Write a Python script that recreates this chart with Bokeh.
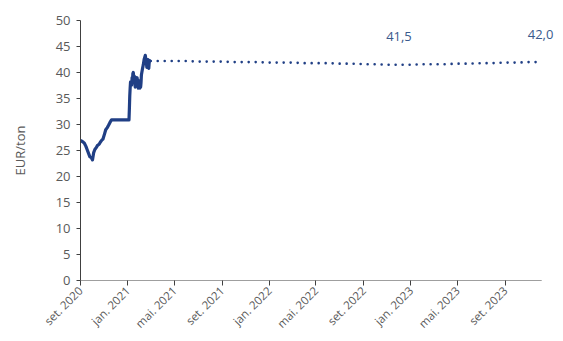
import math
from datetime import datetime

from bokeh.core.properties import value
from bokeh.embed import file_html
from bokeh.models import ColumnDataSource, FixedTicker, LabelSet, Range1d
from bokeh.plotting import figure
from bokeh.resources import INLINE

# Observed prices (EUR/ton)
spot_dates = [
    "2020-09-01", "2020-09-04", "2020-09-08", "2020-09-11", "2020-09-15", "2020-09-18",
    "2020-09-22", "2020-09-25", "2020-09-29", "2020-10-02", "2020-10-05", "2020-10-08",
    "2020-10-12", "2020-10-15", "2020-10-19", "2020-10-22", "2020-10-26", "2020-10-29",
    "2020-11-02", "2020-11-05", "2020-11-09", "2020-11-12", "2020-11-16", "2020-11-20",
    "2021-01-04", "2021-01-05", "2021-01-06", "2021-01-07", "2021-01-08", "2021-01-11",
    "2021-01-12", "2021-01-13", "2021-01-14", "2021-01-15", "2021-01-18", "2021-01-19",
    "2021-01-20", "2021-01-21", "2021-01-22", "2021-01-25", "2021-01-26", "2021-01-27",
    "2021-01-28", "2021-01-29", "2021-02-01", "2021-02-02", "2021-02-03", "2021-02-04",
    "2021-02-05", "2021-02-08", "2021-02-10", "2021-02-12", "2021-02-15", "2021-02-16",
    "2021-02-17", "2021-02-18", "2021-02-19", "2021-02-22", "2021-02-23", "2021-02-24",
    "2021-02-25", "2021-02-26", "2021-03-01",
]
spot_values = [
    27.0, 26.8, 26.6, 26.4, 25.8, 25.2,
    24.4, 23.8, 23.6, 23.2, 24.6, 25.2,
    25.6, 26.0, 26.2, 26.6, 27.0, 27.2,
    28.2, 29.0, 29.4, 29.8, 30.4, 30.9,
    30.9, 33.0, 35.5, 37.0, 38.2, 37.6,
    39.0, 38.4, 39.8, 40.0, 38.0, 39.2,
    37.2, 38.8, 38.0, 39.0, 37.4, 38.6,
    37.0, 38.4, 37.0, 38.2, 37.2, 38.0,
    39.5, 40.8, 41.5, 42.5, 43.3, 42.8,
    42.6, 41.8, 41.0, 42.5, 41.6, 40.8,
    41.8, 42.3, 42.0,
]

# Forward curve, monthly (EUR/ton)
fwd_months = [
    "2021-03-01", "2021-04-01", "2021-05-01", "2021-06-01", "2021-07-01", "2021-08-01",
    "2021-09-01", "2021-10-01", "2021-11-01", "2021-12-01", "2022-01-01", "2022-02-01",
    "2022-03-01", "2022-04-01", "2022-05-01", "2022-06-01", "2022-07-01", "2022-08-01",
    "2022-09-01", "2022-10-01", "2022-11-01", "2022-12-01", "2023-01-01", "2023-02-01",
    "2023-03-01", "2023-04-01", "2023-05-01", "2023-06-01", "2023-07-01", "2023-08-01",
    "2023-09-01", "2023-10-01", "2023-11-01", "2023-12-01",
]
fwd_values = [
    42.2, 42.2, 42.2, 42.2, 42.1, 42.1,
    42.1, 42.0, 42.0, 42.0, 41.9, 41.9,
    41.9, 41.8, 41.8, 41.8, 41.7, 41.7,
    41.6, 41.6, 41.5, 41.5, 41.5, 41.6,
    41.6, 41.6, 41.7, 41.7, 41.8, 41.8,
    41.9, 41.9, 42.0, 42.0,
]

# Labelled forward points
label_months = ["2022-12-01", "2023-12-01"]
label_values = [41.5, 42.0]
label_texts = ["41,5", "42,0"]

# Axis ticks and extent
tick_dates = [
    "2020-09-01", "2021-01-01", "2021-05-01", "2021-09-01", "2022-01-01",
    "2022-05-01", "2022-09-01", "2023-01-01", "2023-05-01", "2023-09-01",
]
tick_labels = [
    "set. 2020", "jan. 2021", "mai. 2021", "set. 2021", "jan. 2022",
    "mai. 2022", "set. 2022", "jan. 2023", "mai. 2023", "set. 2023",
]
axis_start = "2020-09-01"
axis_end = "2023-12-04"
view_end = "2024-01-24"   # extra room on the right so end labels are not clipped
y_ticks = [0, 5, 10, 15, 20, 25, 30, 35, 40, 45, 50]


def to_dt(s):
    return datetime.strptime(s, "%Y-%m-%d")


def to_ms(s):
    return (to_dt(s) - datetime(1970, 1, 1)).total_seconds() * 1000.0


LINE = "#203F85"
LABEL = "#3A5A8C"
GREY = "#595959"
AXIS = "#404040"
FONT = "Open Sans"

p = figure(
    width=563, height=341,
    x_axis_type="datetime",
    output_backend="svg",
    toolbar_location=None,
    min_border_left=80, min_border_right=2,
    min_border_top=20, min_border_bottom=61,
    x_range=Range1d(to_dt(axis_start), to_dt(view_end)),
    y_range=Range1d(0, 50),
)
p.outline_line_color = None
p.xgrid.visible = False
p.ygrid.visible = False
p.background_fill_color = "white"
p.border_fill_color = "white"

spot = ColumnDataSource(dict(x=[to_dt(d) for d in spot_dates], y=spot_values))
fwd = ColumnDataSource(dict(x=[to_dt(d) for d in fwd_months], y=fwd_values))
lab = ColumnDataSource(dict(x=[to_dt(d) for d in label_months], y=label_values, t=label_texts))

# baseline of the time axis, ending at the last month shown
p.segment(x0=[to_dt(axis_start)], y0=[0], x1=[to_dt(axis_end)], y1=[0],
          line_color=AXIS, line_width=1)

p.line("x", "y", source=fwd, line_color=LINE, line_width=2.6,
       line_dash="0 7", line_cap="round")
p.line("x", "y", source=spot, line_color=LINE, line_width=3.2, line_join="round")

p.add_layout(LabelSet(
    x="x", y="y", text="t", source=lab, text_color=LABEL,
    text_font=value(FONT), text_font_size="13px",
    text_align="center", text_baseline="middle", y_offset=28,
))

# y axis
ya = p.yaxis[0]
ya.ticker = FixedTicker(ticks=y_ticks)
ya.axis_label = "EUR/ton"
ya.axis_label_text_font = FONT
ya.axis_label_text_font_style = "normal"
ya.axis_label_text_font_size = "13px"
ya.axis_label_text_color = GREY
ya.axis_label_standoff = 24
ya.major_label_text_font = FONT
ya.major_label_text_font_size = "13px"
ya.major_label_text_color = GREY
ya.major_label_standoff = 6
ya.axis_line_color = AXIS
ya.major_tick_line_color = AXIS
ya.major_tick_out = 4
ya.major_tick_in = 0
ya.minor_tick_line_color = None

# x axis (its own line is replaced by the baseline segment above)
xa = p.xaxis[0]
tick_ms = [to_ms(d) for d in tick_dates]
xa.ticker = FixedTicker(ticks=tick_ms)
xa.major_label_overrides = {t: lbl for t, lbl in zip(tick_ms, tick_labels)}
xa.major_label_orientation = math.pi / 4
xa.major_label_text_font = FONT
xa.major_label_text_font_size = "11.5px"
xa.major_label_text_color = GREY
xa.major_label_standoff = 3
xa.axis_line_color = None
xa.major_tick_line_color = AXIS
xa.major_tick_out = 5
xa.major_tick_in = 0
xa.minor_tick_line_color = None

open("out.html", "w").write(file_html(p, INLINE))
